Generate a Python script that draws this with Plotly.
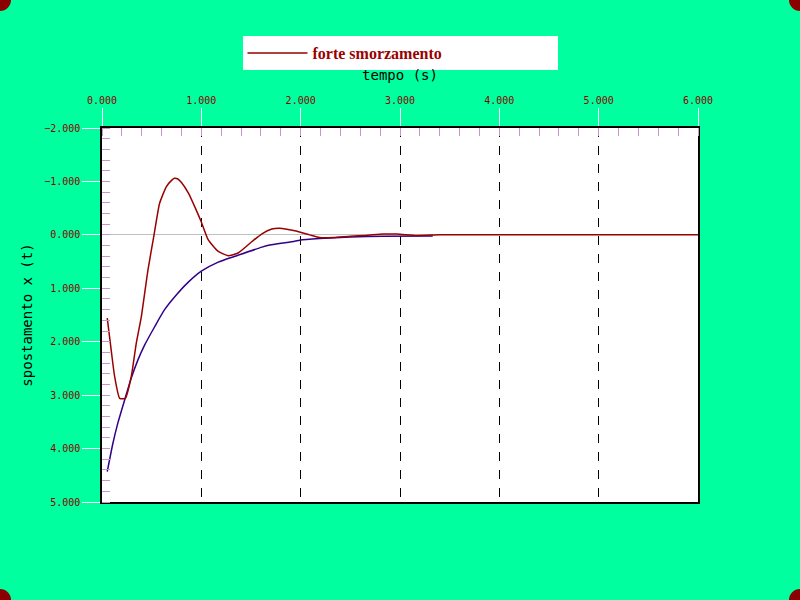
import plotly.graph_objects as go

# --- data ---
t_red = [0.053, 0.094, 0.127, 0.178, 0.235, 0.295, 0.345, 0.396, 0.463, 0.524, 0.58, 0.647,
         0.70, 0.73, 0.76, 0.80, 0.87, 0.94, 1.0, 1.07, 1.17, 1.27, 1.37, 1.51, 1.61, 1.71,
         1.79, 1.94, 2.09, 2.19, 2.33, 2.5, 2.66, 2.83, 2.97, 3.17, 3.4, 4.0, 5.0, 6.0]
x_red = [1.56, 2.18, 2.65, 3.06, 3.06, 2.65, 2.03, 1.53, 0.655, 0.0, -0.59, -0.90,
         -1.02, -1.06, -1.05, -0.98, -0.78, -0.50, -0.24, 0.094, 0.31, 0.39, 0.34, 0.125, -0.02, -0.11,
         -0.125, -0.075, 0.0, 0.05, 0.05, 0.025, 0.01, -0.015, -0.015, 0.01, 0.0, 0.0, 0.0, 0.0]

t_blue = [0.053, 0.11, 0.16, 0.228, 0.295, 0.362, 0.43, 0.53, 0.63, 0.75, 0.866, 1.0,
          1.17, 1.34, 1.61, 1.69, 1.94, 1.99, 2.19, 2.5, 2.83, 3.33]
x_blue = [4.43, 3.90, 3.52, 3.09, 2.68, 2.34, 2.06, 1.72, 1.40, 1.12, 0.89, 0.68,
          0.51, 0.40, 0.23, 0.19, 0.12, 0.10, 0.07, 0.04, 0.025, 0.02]

legend_name = "<b>forte smorzamento</b>"
x_title = "tempo (s)"
y_title = "spostamento x (t)"

GREEN = "#00ff9f"
RED = "#990000"
BLUE = "#330088"
PINK = "#c896c8"

fig = go.Figure()
fig.add_trace(go.Scatter(x=t_blue, y=x_blue, mode="lines", showlegend=False,
                         line=dict(color=BLUE, width=1.5, shape="spline", smoothing=0.6)))
fig.add_trace(go.Scatter(x=t_red, y=x_red, mode="lines", name=legend_name,
                         line=dict(color=RED, width=1.5, shape="spline", smoothing=0.5)))

W, H = 800, 600
L, R, T, B = 102, 102, 128, 98
pw, ph = W - L - R, H - T - B

fig.update_layout(
    width=W, height=H,
    margin=dict(l=L, r=R, t=T, b=B),
    paper_bgcolor=GREEN, plot_bgcolor="white",
    legend=dict(orientation="h", x=0.5, xanchor="center", y=1 + (T - 36) / ph, yanchor="top",
                bgcolor="white", entrywidth=240, itemwidth=60,
                font=dict(family="Liberation Serif", size=16, color=RED)),
    xaxis=dict(side="top", range=[0, 6], dtick=1, tickformat=".3f",
               ticks="outside", ticklen=18, tickcolor="white", tickwidth=1,
               tickfont=dict(family="DejaVu Sans Mono", size=10, color="#8b0000"),
               showline=True, linecolor="black", linewidth=1.5, mirror=True,
               showgrid=True, gridcolor="black", griddash="dash", gridwidth=1,
               zeroline=False,
               minor=dict(dtick=0.2, ticks="inside", ticklen=8, tickcolor=PINK, showgrid=False),
               title=dict(text=x_title, standoff=11,
                          font=dict(family="DejaVu Sans Mono", size=14, color="black"))),
    yaxis=dict(range=[5, -2], dtick=1, tickformat=".3f",
               ticks="outside", ticklen=18, tickcolor="white", tickwidth=1,
               tickfont=dict(family="DejaVu Sans Mono", size=10, color="#8b0000"),
               showline=True, linecolor="black", linewidth=1.5, mirror=True,
               showgrid=False, zeroline=True, zerolinecolor="#c0c0c0", zerolinewidth=1,
               minor=dict(dtick=0.2, ticks="inside", ticklen=8, tickcolor=PINK, showgrid=False),
               title=dict(text=y_title, standoff=8,
                          font=dict(family="DejaVu Sans Mono", size=14, color="black"))),
)

# corner decorations
shapes = []
for px, py in [(0, 0), (W, 0), (0, H), (W, H)]:
    xa = (px - L) / pw
    ya = 1 - (py - T) / ph
    shapes.append(dict(type="circle", xref="paper", yref="paper", xsizemode="pixel",
                       ysizemode="pixel", xanchor=xa, yanchor=ya, x0=-11, x1=11, y0=-11, y1=11,
                       fillcolor="#8b0000", line=dict(width=0), layer="above"))
fig.update_layout(shapes=shapes)

fig.write_html("out.html", config={"displayModeBar": False},
               post_script="document.body.style.margin='0';document.body.style.padding='0';")
